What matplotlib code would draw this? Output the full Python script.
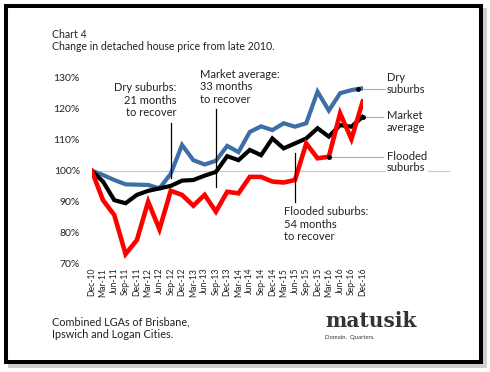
import numpy as np
import matplotlib
matplotlib.use("Agg")
import matplotlib.pyplot as plt
from matplotlib.patches import Rectangle

plt.rcParams['font.family'] = ['Lato', 'DejaVu Sans']

# quarterly index, Dec-10 = 100
quarters = ['Dec-10', 'Mar-11', 'Jun-11', 'Sep-11', 'Dec-11', 'Mar-12', 'Jun-12',
            'Sep-12', 'Dec-12', 'Mar-13', 'Jun-13', 'Sep-13', 'Dec-13', 'Mar-14',
            'Jun-14', 'Sep-14', 'Dec-14', 'Mar-15', 'Jun-15', 'Sep-15', 'Dec-15',
            'Mar-16', 'Jun-16', 'Sep-16', 'Dec-16']
dry = [100, 98.6, 97, 95.6, 95.5, 95.4, 94.3, 99, 108.3, 103.4, 102, 103.2, 108,
       106, 112.5, 114.3, 113.1, 115.3, 114.2, 115.3, 125.5, 119.4, 125, 126, 126.6]
market = [100, 96.5, 90.5, 89.5, 92.2, 93.5, 94.3, 95.1, 96.8, 97, 98.4, 99.6,
          104.7, 103.4, 106.7, 105, 110.4, 107.2, 108.8, 110.4, 113.7, 111, 114.7,
          114.2, 117.4]
flooded = [100, 90.5, 85.7, 73.1, 77.6, 90, 81.1, 93.5, 92.2, 88.7, 92.2, 86.8,
           93.2, 92.7, 98, 98, 96.5, 96.2, 97, 108.8, 104, 104.5, 118.5, 110.2, 122.3]
yticks = [70, 80, 90, 100, 110, 120, 130]

W, H = 490, 372
fig = plt.figure(figsize=(W / 100, H / 100), dpi=100)


def fx(px):
    return px / W


def fy(py):
    return 1 - py / H


# framed card with a soft shadow
fig.patches.append(Rectangle((fx(8), fy(368)), fx(479), 360 / H, transform=fig.transFigure,
                             facecolor='#cfcfcf', edgecolor='none', zorder=-10))
fig.patches.append(Rectangle((fx(6), fy(362)), fx(475), 356 / H, transform=fig.transFigure,
                             facecolor='white', edgecolor='black', lw=2.9, zorder=-9))

ax = fig.add_axes([fx(91.7), fy(263.7), 271 / W, 186 / H])
ax.set_facecolor('none')
x = np.arange(len(quarters))

# 100% reference line, runs out past the plot
ax.plot([0, 31.6], [100, 100], color='#c8c8c8', lw=0.8, zorder=1, clip_on=False)

ax.plot(x, dry, color='#3d6ea6', lw=3, solid_joinstyle='miter', zorder=3)
ax.plot(x, market, color='black', lw=3, solid_joinstyle='miter', zorder=4)
ax.plot(x, flooded, color='#ff0000', lw=3.3, solid_joinstyle='miter', zorder=5)

ax.set_xlim(0, 24)
ax.set_ylim(70, 130)
for s in ax.spines.values():
    s.set_visible(False)
ax.set_yticks(yticks)
ax.set_yticklabels([f'{v}%' for v in yticks], fontsize=7.5, color='#222')
ax.set_xticks(x)
ax.set_xticklabels(quarters, rotation=90, fontsize=6.2, color='#222')
ax.tick_params(axis='y', length=0, pad=8.5)
ax.tick_params(axis='x', length=0, pad=3)

# recovery markers
fs = 8
ax.plot([7, 7], [97.6, 115.3], color='black', lw=0.9, zorder=6)
ax.text(7.53, 122.8, 'Dry suburbs:\n21 months\nto recover', ha='right', va='center',
        fontsize=fs, linespacing=1.15, color='#222')
ax.plot([11, 11], [94.8, 119.8], color='black', lw=0.9, zorder=6)
ax.text(9.6, 127.0, 'Market average:\n33 months\nto recover', ha='left', va='center',
        fontsize=fs, linespacing=1.15, color='#222')
ax.plot([18, 18], [90, 105.6], color='black', lw=0.9, zorder=6)
ax.text(17.06, 82.8, 'Flooded suburbs:\n54 months\nto recover', ha='left', va='center',
        fontsize=fs, linespacing=1.15, color='#222')

# series labels with leaders
dry_dot = np.interp(23.6, x, dry)
ax.plot([23.6, 26], [dry_dot, dry_dot], color='#aaaaaa', lw=0.8, zorder=2, clip_on=False)
ax.plot([23.6], [dry_dot], 'o', color='black', ms=2.5, zorder=7)
ax.text(26.15, 128.2, 'Dry\nsuburbs', ha='left', va='center', fontsize=fs,
        linespacing=1.1, color='#222')

ax.plot([24, 25.8], [market[24], market[24]], color='#aaaaaa', lw=0.8, zorder=2, clip_on=False)
ax.plot([24], [market[24]], 'o', color='black', ms=2.5, zorder=7, clip_on=False)
ax.text(26.15, 115.8, 'Market\naverage', ha='left', va='center', fontsize=fs,
        linespacing=1.1, color='#222')

ax.plot([21, 25.8], [flooded[21], flooded[21]], color='#aaaaaa', lw=0.8, zorder=2, clip_on=False)
ax.plot([21], [flooded[21]], 'o', color='black', ms=2.5, zorder=7)
ax.text(26.15, 102.8, 'Flooded\nsuburbs', ha='left', va='center', fontsize=fs,
        linespacing=1.1, color='#222', zorder=3,
        bbox=dict(facecolor='white', edgecolor='none', pad=1))

# titles and footer
fig.text(fx(52.3), fy(40.5), 'Chart 4\nChange in detached house price from late 2010.',
         ha='left', va='center', fontsize=7.6, linespacing=1.15, color='#222')
fig.text(fx(51.7), fy(328.3), 'Combined LGAs of Brisbane,\nIpswich and Logan Cities.',
         ha='left', va='center', fontsize=7.8, linespacing=1.15, color='#222')
fig.text(fx(325), fy(327.3), 'matusik', ha='left', va='baseline', fontsize=14.5,
         family='DejaVu Serif', weight='bold', color='#333')
fig.text(fx(325), fy(337.3), 'Domain.  Quarters.', ha='left', va='center', fontsize=4.3,
         color='#333')

fig.savefig('out.png', dpi=100)
